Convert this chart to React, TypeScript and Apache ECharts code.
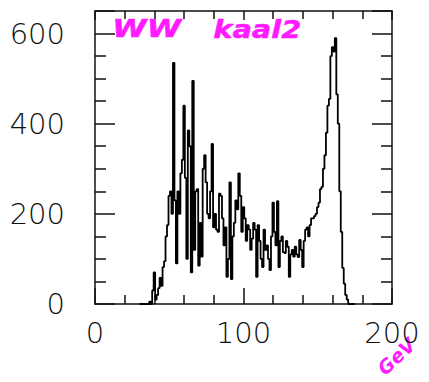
import React, { useEffect, useRef } from "react";
import * as echarts from "echarts";

// Histogram bins: first bin centre (GeV), 1 GeV wide bins
const firstBinGeV = 30;
const counts = [
  0, 0, 0, 0, 0, 0, 0, 5, 0, 30, 70, 10, 20, 35, 58, 40, 82, 95, 150, 175,
  240, 250, 200, 535, 230, 90, 250, 200, 290, 320, 440, 280, 100, 385, 350, 70,
  495, 120, 250, 255, 85, 180, 105, 300, 330, 270, 200, 190, 250, 355, 170, 200,
  165, 160, 245, 240, 190, 130, 170, 60, 100, 270, 55, 150, 180, 230, 210, 290,
  240, 160, 215, 190, 140, 175, 165, 120, 145, 180, 165, 60, 175, 140, 100, 82,
  165, 120, 130, 100, 75, 150, 225, 160, 130, 228, 82, 140, 150, 115, 113, 140,
  127, 60, 110, 120, 105, 127, 110, 104, 142, 120, 82, 140, 165, 170, 150, 175,
  190, 190, 195, 200, 215, 225, 255, 260, 300, 330, 380, 440, 455, 550, 570, 560,
  590, 465, 400, 250, 160, 80, 45, 20, 10, 0, 0, 0, 0, 0,
];
const xTickLabels = ["0", "100", "200"];
const yTickLabels = ["0", "200", "400", "600"];
const titleWords = ["WW", "kaal2"];
const unitLabel = "GeV";

const FONT = "DejaVu Sans";

export default function App() {
  const ref = useRef<HTMLDivElement>(null);
  useEffect(() => {
    document.body.style.margin = "0";
    if (!ref.current) return;
    const chart = echarts.init(ref.current, undefined, { renderer: "svg" });
    const data = counts.map((c, i) => [firstBinGeV + i, c]);
    const axisLine = { show: true, onZero: false, lineStyle: { color: "#111", width: 1.5 } };
    const tickLine = { color: "#111", width: 1.5 };
    const labelStyle = { fontFamily: FONT, fontSize: 29, color: "#111", fontWeight: 200 as any };
    chart.setOption({
      animation: false,
      backgroundColor: "#fff",
      textStyle: { fontFamily: FONT },
      grid: { left: 95, right: 37, top: 11, bottom: 78, containLabel: false },
      xAxis: [
        {
          type: "value",
          min: 0,
          max: 200,
          interval: 100,
          position: "bottom",
          axisLine,
          axisTick: { show: true, inside: true, length: 16, lineStyle: tickLine },
          minorTick: { show: true, splitNumber: 5, length: 9, lineStyle: tickLine },
          splitLine: { show: false },
          axisLabel: {
            ...labelStyle,
            margin: 14,
            formatter: (v: number) => (xTickLabels.includes(String(v)) ? String(v) : ""),
          },
        },
        {
          type: "value",
          min: 0,
          max: 200,
          interval: 100,
          position: "top",
          axisLine,
          axisTick: { show: true, inside: true, length: 9, lineStyle: tickLine },
          minorTick: { show: true, splitNumber: 5, length: 8, lineStyle: tickLine },
          splitLine: { show: false },
          axisLabel: { show: false },
        },
      ],
      yAxis: [
        {
          type: "value",
          min: 0,
          max: 650,
          interval: 200,
          position: "left",
          axisLine,
          axisTick: { show: true, inside: true, length: 20, lineStyle: tickLine },
          minorTick: { show: true, splitNumber: 4, length: 11, lineStyle: tickLine },
          splitLine: { show: false },
          axisLabel: {
            ...labelStyle,
            margin: 30,
            formatter: (v: number) => (yTickLabels.includes(String(v)) ? String(v) : ""),
          },
        },
        {
          type: "value",
          min: 0,
          max: 650,
          interval: 200,
          position: "right",
          axisLine,
          axisTick: { show: true, inside: true, length: 20, lineStyle: tickLine },
          minorTick: { show: true, splitNumber: 4, length: 11, lineStyle: tickLine },
          splitLine: { show: false },
          axisLabel: { show: false },
        },
      ],
      series: [
        {
          type: "line",
          xAxisIndex: 0,
          yAxisIndex: 0,
          step: "middle",
          data,
          symbol: "none",
          lineStyle: { color: "#000", width: 1.8 },
        },
      ],
      graphic: [
        {
          type: "text",
          left: 112,
          top: 17,
          style: {
            text: titleWords[0],
            fill: "#ff1aff",
            font: `italic bold 24px ${FONT}`,
            stroke: "#ff1aff",
            lineWidth: 0.5,
          },
          scaleX: 1.3,
        },
        {
          type: "text",
          left: 213,
          top: 17,
          style: {
            text: titleWords[1],
            fill: "#ff1aff",
            font: `italic bold 24px ${FONT}`,
            stroke: "#ff1aff",
            lineWidth: 0.5,
          },
          scaleX: 1.2,
        },
        {
          type: "text",
          x: 387,
          y: 378,
          rotation: 0.75,
          style: {
            text: unitLabel,
            fill: "#ff1aff",
            font: `italic bold 19px ${FONT}`,
            verticalAlign: "bottom",
          },
        },
      ],
    });
    return () => chart.dispose();
  }, []);
  return <div ref={ref} style={{ width: 429, height: 382 }} />;
}
